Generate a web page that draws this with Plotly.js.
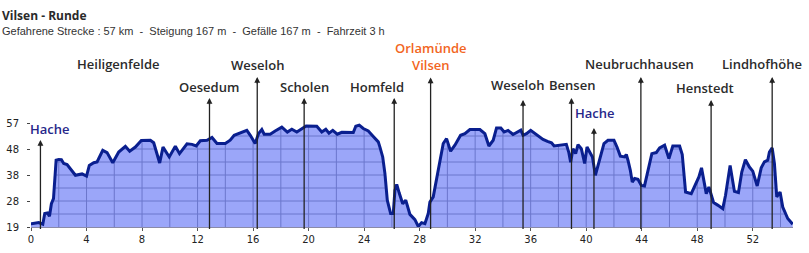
<!DOCTYPE html>
<html><head><meta charset="utf-8">
<script src="https://cdn.plot.ly/plotly-3.0.1.min.js"></script>
<style>html,body{margin:0;padding:0;background:#fff;}#chart{width:809px;height:253px;}</style>
</head><body><div id="chart"></div>
<script>
// Elevation profile: distance (km) and altitude (m)
const distKm = [0.0,0.04,0.56,0.85,0.99,1.19,1.33,1.47,1.62,1.81,2.0,2.19,2.36,2.6,3.2,3.68,4.0,4.2,4.52,4.76,5.17,5.48,5.89,6.32,6.8,7.11,7.52,7.95,8.6,8.84,9.27,9.51,9.96,10.4,10.7,11.24,11.6,11.9,12.2,12.68,13.04,13.4,14.0,14.35,14.64,15.02,15.55,15.8,16.15,16.39,16.63,16.8,17.23,17.59,18.07,18.47,18.79,19.15,19.82,20.59,20.95,21.24,21.47,21.74,22.07,22.39,23.22,23.4,23.65,23.94,24.3,24.66,25.02,25.14,25.34,25.5,25.67,25.91,26.1,26.22,26.35,26.53,26.78,27.0,27.3,27.66,27.9,28.14,28.38,28.62,28.74,28.98,29.22,29.46,29.7,29.94,30.23,30.54,30.95,31.26,31.62,32.34,32.7,32.99,33.3,33.54,33.85,34.09,34.37,34.73,34.98,35.29,35.45,35.7,36.0,36.35,36.89,37.21,37.5,37.69,38.02,38.57,38.74,38.88,39.05,39.24,39.41,39.65,39.89,40.06,40.25,40.45,40.66,40.97,41.28,41.57,42.0,42.22,42.46,42.77,42.89,43.01,43.18,43.32,43.49,43.73,43.97,44.2,44.45,44.73,45.05,45.29,45.65,45.96,46.24,46.73,46.92,47.16,47.57,47.88,48.12,48.31,48.65,48.84,49.18,49.5,49.84,50.04,50.37,50.68,50.97,51.21,51.47,51.76,52.0,52.32,52.61,52.84,53.08,53.2,53.4,53.56,53.73,53.97,54.16,54.52,54.88];
const altM = [20.2,20.2,20.6,20.0,23.9,24.1,22.9,27.5,29.4,43.4,43.7,43.6,42.2,41.8,37.9,38.4,37.6,41.5,42.5,42.8,47.0,46.2,42.5,46.4,48.5,46.7,48.2,50.6,50.7,49.8,42.4,48.2,44.6,48.5,45.8,49.4,49.2,48.6,50.5,50.7,51.7,49.5,49.5,50.7,52.5,53.3,54.3,52.5,49.5,53.1,54.6,52.9,52.9,54.1,55.5,53.7,54.7,53.7,55.9,55.8,53.7,54.7,53.3,54.3,52.9,53.6,53.5,55.8,56.2,55.0,54.1,52.1,50.1,48.2,44.6,38.5,28.8,23.9,23.9,32.4,34.6,31.4,27.5,28.8,23.6,21.7,19.2,20.6,20.2,23.9,28.1,30.0,36.1,42.7,49.5,51.3,46.7,48.9,52.5,53.1,54.6,54.6,53.1,48.6,50.7,55.2,55.2,53.7,54.3,52.8,53.5,54.4,52.5,53.1,54.3,53.1,51.0,50.3,49.8,48.6,48.9,49.2,46.4,42.7,47.6,45.8,49.1,47.6,42.2,48.2,46.4,44.6,37.9,44.0,49.5,50.7,50.7,48.2,44.9,44.6,45.5,43.4,39.7,35.4,36.7,36.4,34.2,34.0,39.7,45.8,46.2,47.9,48.9,44.0,48.6,48.6,45.5,31.8,31.2,34.9,37.3,40.6,31.2,33.6,27.9,26.9,25.7,30.6,41.5,32.0,31.6,39.1,43.6,40.9,39.4,34.0,40.6,42.8,43.4,46.4,47.9,42.2,30.0,31.8,26.3,22.1,20.0];

// Places along the route
const placeNames = ["Hache","Heiligenfelde","Oesedum","Weseloh","Scholen","Homfeld","Orlamünde<br>Vilsen","Weseloh","Bensen","Hache","Neubruchhausen","Henstedt","Lindhofhöhe"];
const placeKm    = [0.68, 6.33, 12.86, 16.3, 19.68, 26.17, 28.79, 35.45, 38.94, 40.56, 43.94, 49.0, 53.4];

// Axis ticks and grid positions
const yTickVals  = [19, 28.5, 38, 47.5, 57];
const yTickText  = ["19","28","38","48","57"];
const yGridVals  = [23.75, 28.5, 33.25, 38, 42.75, 47.5, 52.25];
const xTickVals  = [0,4,8,12,16,20,24,28,32,36,40,44,48,52];
const xGridVals  = [2,4,6,8,10,12,14,16,18,20,22,24,26,28,30,32,34,36,38,40,42,44,46,48,50,52,54];
const xRange = [0, 54.9], yRange = [19, 57];

const titleText = "Vilsen - Runde";
const subText = "Gefahrene Strecke : 57 km\u00a0 -\u00a0 Steigung 167 m\u00a0 -\u00a0 Gefälle 167 m\u00a0 -\u00a0 Fahrzeit 3 h";

const T = 123, B = 26, PH = 253 - T - B;
const py = p => (227 - p) / PH; // pixel row -> paper y

// label style per place: [textCenterPx_y, xshiftPx, arrowTopPx, color, hasLine]
const dark = "#2b2b2b", blue = "#27278a", orange = "#f26522";
const labelStyle = [
  [129, 10, 140, blue, true],
  [64, 0, null, dark, false],
  [86.5, 0, 98, dark, true],
  [65, 0, 77, dark, true],
  [86.5, 0, 98, dark, true],
  [86.5, -17, 98, dark, true],
  [56, 0, 77.5, orange, true],
  [85, -6, 100, dark, true],
  [85, 1, 98, dark, true],
  [113, 1, 128, blue, true],
  [63.5, -1, 77, dark, true],
  [88, -6, 100, dark, true],
  [63.5, -10, 77, dark, true]
];

// grid lines visible only under the profile: clipped against the profile geometry
function curveAt(x) {
  for (let i = 0; i < distKm.length - 1; i++) {
    if (x >= distKm[i] && x <= distKm[i + 1]) {
      const t = (x - distKm[i]) / (distKm[i + 1] - distKm[i]);
      return altM[i] + t * (altM[i + 1] - altM[i]);
    }
  }
  return null;
}
const gx = [], gy = [];
xGridVals.forEach(x => { const h = curveAt(x); if (h !== null) { gx.push(x, x, null); gy.push(yRange[0], h, null); } });
yGridVals.forEach(L => {
  let inside = altM[0] > L, start = inside ? distKm[0] : null;
  for (let i = 0; i < altM.length - 1; i++) {
    const a = altM[i], b = altM[i + 1];
    if ((a > L) !== (b > L)) {
      const xc = distKm[i] + (L - a) / (b - a) * (distKm[i + 1] - distKm[i]);
      if (!inside) { start = xc; inside = true; }
      else { gx.push(start, xc, null); gy.push(L, L, null); inside = false; }
    }
  }
  if (inside) { gx.push(start, distKm[distKm.length - 1], null); gy.push(L, L, null); }
});

const traces = [
  {x: distKm, y: altM, type: "scatter", mode: "lines", line: {width: 0, color: "rgba(0,0,0,0)"}, fill: "tozeroy", fillcolor: "#9ba6f9", hoverinfo: "skip", showlegend: false},
  {x: gx, y: gy, type: "scatter", mode: "lines", line: {color: "#6b76cc", width: 1}, connectgaps: false, hoverinfo: "skip", showlegend: false},
  {x: distKm, y: altM, type: "scatter", mode: "lines", line: {color: "#0a1f8f", width: 3, shape: "linear"}, showlegend: false}
];

const annotations = [
  {xref: "paper", yref: "paper", x: -31/762, y: py(15), xanchor: "left", yanchor: "middle", text: "<b>" + titleText + "</b>", showarrow: false, font: {family: "Open Sans", size: 12, color: "#2a2a2a"}},
  {xref: "paper", yref: "paper", x: -31/762, y: py(31), xanchor: "left", yanchor: "middle", text: subText, showarrow: false, font: {family: "Liberation Sans", size: 11, color: "#333"}}
];
const shapes = [];
placeNames.forEach((n, i) => {
  const s = labelStyle[i];
  annotations.push({xref: "x", yref: "paper", x: placeKm[i], y: py(s[0]), xshift: s[1], xanchor: "center", yanchor: "middle",
    text: n, showarrow: false, font: {family: "Open Sans", size: 13, color: s[3], weight: 600}});
  if (s[4]) {
    shapes.push({type: "line", xref: "x", yref: "paper", x0: placeKm[i], x1: placeKm[i], y0: py(229), y1: py(s[2] + 4), line: {color: "#222", width: 1.3}, layer: "above"});
    annotations.push({xref: "x", yref: "paper", x: placeKm[i], y: py(s[2]), ax: 0, ay: 8, text: "", showarrow: true, arrowhead: 2, arrowsize: 0.9, arrowwidth: 1.3, arrowcolor: "#222", standoff: 0, startstandoff: 0});
  }
});

const layout = {
  width: 809, height: 253,
  margin: {l: 31, r: 16, t: T, b: B, pad: 0},
  paper_bgcolor: "#ffffff", plot_bgcolor: "#ffffff",
  showlegend: false,
  xaxis: {range: xRange, tickvals: xTickVals, ticks: "outside", ticklen: 3, tickcolor: "#555", showgrid: false,
    showline: true, linecolor: "#8a8aa8", linewidth: 1, zeroline: false, fixedrange: true,
    tickfont: {family: "DejaVu Sans", size: 10, color: "#222"}},
  yaxis: {range: yRange, tickvals: yTickVals, ticktext: yTickText, ticks: "outside", ticklen: 3, tickcolor: "#444", showgrid: false,
    showline: false, zeroline: false, fixedrange: true, ticklabelstandoff: 6,
    tickfont: {family: "DejaVu Sans", size: 10, color: "#222"}},
  annotations: annotations,
  shapes: shapes
};

Plotly.newPlot("chart", traces, layout, {staticPlot: true, displayModeBar: false});
</script></body></html>
